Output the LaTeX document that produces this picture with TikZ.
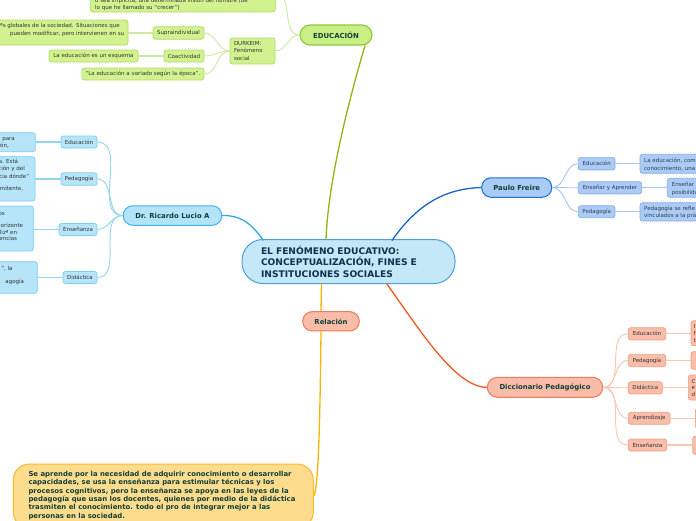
\documentclass[tikz,border=0pt]{standalone}
\usepackage{fontspec}
\setmainfont{DejaVu Sans}
\usetikzlibrary{calc}
\definecolor{colcfill}{HTML}{C4E8F8}
\definecolor{colcbd}{HTML}{4AA0D8}
\definecolor{colctext}{HTML}{12304F}
\definecolor{colttext}{HTML}{123F36}
\definecolor{colltext}{HTML}{333333}
\definecolor{colptext}{HTML}{2B3F5C}
\definecolor{colgfill}{HTML}{C9EF84}
\definecolor{colgbd}{HTML}{8CC63F}
\definecolor{colgcfill}{HTML}{D2F28F}
\definecolor{colgcbd}{HTML}{B0DC68}
\definecolor{colgline}{HTML}{CDE9A3}
\definecolor{colgmline}{HTML}{8DB814}
\definecolor{colrfill}{HTML}{B3E3F8}
\definecolor{colrbd}{HTML}{45B3EA}
\definecolor{colrcfill}{HTML}{B6E5F9}
\definecolor{colrcbd}{HTML}{7ECDF1}
\definecolor{colrline}{HTML}{93D4F3}
\definecolor{colrmline}{HTML}{33A8E6}
\definecolor{colpfill}{HTML}{A8CCF6}
\definecolor{colpbd}{HTML}{1F6ED6}
\definecolor{colpcfill}{HTML}{ABCBF4}
\definecolor{colpcbd}{HTML}{86AFE8}
\definecolor{colpline}{HTML}{A6C5EF}
\definecolor{colpmline}{HTML}{1A63CF}
\definecolor{colsfill}{HTML}{F9BCA8}
\definecolor{colsbd}{HTML}{EE7A58}
\definecolor{colscfill}{HTML}{F9BEA9}
\definecolor{colscbd}{HTML}{F19D80}
\definecolor{colsline}{HTML}{F8C6B3}
\definecolor{colsmline}{HTML}{F05A22}
\definecolor{colyfill}{HTML}{FEDC8E}
\definecolor{colybd}{HTML}{F7BC2A}
\definecolor{colymline}{HTML}{F6B500}
\newcommand\fsm{\fontsize{5.5}{7.2}\selectfont}
\newcommand\fti{\fontsize{6.9}{7.5}\selectfont\bfseries}
\newcommand\fce{\fontsize{9.1}{11.5}\selectfont\bfseries}
\newcommand\fbo{\fontsize{6.9}{8.35}\selectfont\bfseries}
\begin{document}
\begin{tikzpicture}[x=1pt,y=-1pt,
  base/.style={inner sep=0pt, line width=0.7pt, rounded corners=2.5pt, font=\fsm, text=colltext},
  gc/.style={base, draw=colgcbd, fill=colgcfill},
  rc/.style={base, draw=colrcbd, fill=colrcfill},
  pc/.style={base, draw=colpcbd, fill=colpcfill, text=colptext},
  sc/.style={base, draw=colscbd, fill=colscfill},
  title/.style={inner sep=0pt, line width=1pt, font=\fti, text=colttext},
  frag/.style={inner sep=0pt, font=\fsm, text=colltext},
  lk/.style={line width=0.9pt},
  mk/.style={line width=1.3pt}]
\useasboundingbox (0,0) rectangle (696,520);
\fill[white] (0,0) rectangle (696,520);

% ---------- central ----------
\node[draw=colcbd, fill=colcfill, line width=1pt, rounded corners=21pt, inner ysep=0pt,
  minimum width=213, minimum height=44, text width=175, inner xsep=19, align=left,
  font=\fce, text=colctext] (c) at (348.5,261.5)
  {EL FENÓMENO EDUCATIVO:\\CONCEPTUALIZACIÓN, FINES E\\INSTITUCIONES SOCIALES};

% ---------- EDUCACION (green) ----------
\node[title, draw=colgbd, fill=colgfill, rounded corners=10pt, minimum width=72, minimum height=20, line width=1.1pt] (edu) at (336,35) {EDUCACIÓN};
\node[gc, minimum width=45, minimum height=26, text width=37, inner xsep=4, align=left] (dur) at (252.5,51) {DURKEIM:\\Fenómeno\\social};
\node[gc, minimum width=51, minimum height=12.5] (sup) at (178.5,33) {Supraindividual};
\node[gc, minimum width=40, minimum height=12] (coa) at (184,56) {Coactividad};
\node[gc, minimum width=89, minimum height=12] (esq) at (93.5,56) {La educación es un esquema};
\node[gc, minimum width=122, minimum height=12] (var) at (143,74) {“La educación a variado según la época”.};
\node[gc, minimum width=148, minimum height=25] (supt) at (54,32.5) {};
\node[frag, anchor=base west] (supt1) at (0,27.8) {ªs globales de la sociedad. Situaciones que};
\node[frag, anchor=base west] (supt2) at (10,35) {pueden modificar, pero intervienen en su};
\node[gc, minimum width=185, minimum height=32] (top) at (182.8,-4) {};
\node[frag, anchor=base west] (top1) at (95,2.4) {o sea implícita, una determinada visión del hombre (de};
\node[frag, anchor=base west] (top2) at (95,9.2) {lo que he llamado su “crecer”)};
\coordinate (topc) at (275.3,-7);

\draw[lk, colgline] (edu.west) to[out=180,in=0] (topc);
\draw[lk, colgline] (edu.west) to[out=180,in=0] (dur.east);
\draw[lk, colgline] (dur.west) to[out=180,in=0] (sup.east);
\draw[lk, colgline] (dur.west) to[out=180,in=0] (coa.east);
\draw[lk, colgline] (dur.west) to[out=180,in=0] (var.east);
\draw[line width=1.6pt, colgline] (sup.west) -- (sup.west -| supt.east);
\draw[line width=1.6pt, colgline] (coa.west) -- (esq.east);
\draw[mk, colgmline] (edu.-20) .. controls (346,110) and (328,185) .. ($(c.center)+(-22.5,-22)$);

% ---------- Dr. Ricardo Lucio A ----------
\node[title, draw=colrbd, fill=colrfill, rounded corners=9.5pt, minimum width=98.5, minimum height=19.5] (ric) at (172.5,215.5) {Dr. Ricardo Lucio A};
\node[rc, minimum width=36, minimum height=12] (re1) at (79,142) {Educación};
\node[rc, minimum width=36, minimum height=12.5] (re2) at (79,179) {Pedagogía};
\node[rc, minimum width=38, minimum height=12] (re3) at (78,229.5) {Enseñanza};
\node[rc, minimum width=34, minimum height=12] (re4) at (80,277.5) {Didáctica};
\node[rc, minimum width=55.3, minimum height=19] (rb1) at (7.65,142.2) {};
\node[rc, minimum width=55, minimum height=44.3] (rb2) at (7.5,178.85) {};
\node[rc, minimum width=53.3, minimum height=45] (rb3) at (6.65,228.5) {};
\node[rc, minimum width=57.3, minimum height=31.6] (rb4) at (8.65,277.5) {};
\node[frag, anchor=base east] (rb1a) at (15,140) {para};
\node[frag, anchor=base east] (rb1b) at (9,147) {ón,};
\node[frag, anchor=base east] (rb2a) at (18.3,163.5) {s. Está};
\node[frag, anchor=base east] (rb2b) at (25,170.8) {ción y del};
\node[frag, anchor=base east] (rb2c) at (29.3,178) {cia dónde”};
\node[frag, anchor=base east] (rb2d) at (23.3,190.5) {rmitente,};
\node[frag, anchor=base east] (rb3a) at (5,215) {os};
\node[frag, anchor=base east] (rb3b) at (23.3,227.8) {orizonte};
\node[frag, anchor=base east] (rb3c) at (17.3,234.5) {lizª en};
\node[frag, anchor=base east] (rb3d) at (17.3,240.2) {encias};
\node[frag, anchor=base east] (rb4a) at (12.7,270) {”, la};
\node[frag, anchor=base east] (rb4b) at (24.3,283) {agogía};

\draw[mk, colrmline] (ric.east) .. controls (245,215) and (255,229) .. ($(c.center)+(-85,-21)$);
\foreach \k in {re1,re2,re3,re4}{\draw[lk, colrline] (ric.west) to[out=180,in=0] (\k.east);}
\draw[line width=1.2pt, colrline] (re1.west) -- (re1.west -| rb1.east);
\draw[line width=1.2pt, colrline] (re2.west) -- (re2.west -| rb2.east);
\draw[line width=1.2pt, colrline] (re3.west) -- (re3.west -| rb3.east);
\draw[line width=1.2pt, colrline] (re4.west) -- (re4.west -| rb4.east);

% ---------- Paulo Freire ----------
\node[title, draw=colpbd, fill=colpfill, rounded corners=9.5pt, minimum width=70, minimum height=19.5] (pau) at (516.7,187.5) {Paulo Freire};
\node[pc, minimum width=36.7, minimum height=12.7] (pe1) at (596.7,163.7) {Educación};
\node[pc, minimum width=63.4, minimum height=12.3] (pe2) at (610,187.8) {Enseñar y Aprender};
\node[pc, minimum width=36.7, minimum height=12] (pe3) at (596.7,211.7) {Pedagogía};
\node[pc, minimum width=80, minimum height=19] (pb1) at (680,163.8) {};
\node[pc, minimum width=52.7, minimum height=19] (pb2) at (693.65,187.8) {};
\node[pc, minimum width=80, minimum height=18.3] (pb3) at (680,211.85) {};
\node[frag, text=colptext, anchor=base west] (pb1a) at (644,162.5) {La educación, com};
\node[frag, text=colptext, anchor=base west] (pb1b) at (644,170) {conocimiento, una};
\node[frag, text=colptext, anchor=base west] (pb2a) at (671.7,186.7) {Enseñar};
\node[frag, text=colptext, anchor=base west] (pb2b) at (671.7,194) {posibilida};
\node[frag, text=colptext, anchor=base west] (pb3a) at (644,210.7) {Pedagogía se refle};
\node[frag, text=colptext, anchor=base west] (pb3b) at (644,217.8) {vinculados a la prá};

\draw[mk, colpmline] ($(c.center)+(43.5,-21)$) .. controls (420,200) and (450,188.5) .. (pau.west);
\foreach \k in {pe1,pe2,pe3}{\draw[lk, colpline] (pau.east) to[out=0,in=180] (\k.west);}
\draw[line width=1.2pt, colpline] (pe1.east) -- (pe1.east -| pb1.west);
\draw[line width=1.2pt, colpline] (pe2.east) -- (pe2.east -| pb2.west);
\draw[line width=1.2pt, colpline] (pe3.east) -- (pe3.east -| pb3.west);

% ---------- Relacion ----------
\node[title, draw=colsbd, fill=colsfill, rounded corners=9.5pt, minimum width=56.6, minimum height=19.3] (rel) at (331,321.3) {Relación};
\node[draw=colybd, fill=colyfill, line width=1pt, rounded corners=16pt, minimum width=300, minimum height=64, inner sep=0pt] (bot) at (163.3,496) {};
\node[inner sep=0pt, anchor=north west, align=left, font=\fbo, text=colttext] (bottxt) at (28.3,471)
  {Se aprende por la necesidad de adquirir conocimiento o desarrollar\\
   capacidades, se usa la enseñanza para estimular técnicas y los\\
   procesos cognitivos, pero la enseñanza se apoya en las leyes de la\\
   pedagogía que usan los docentes, quienes por medio de la didáctica\\
   trasmiten el conocimiento. todo el pro de integrar mejor a las\\
   personas en la sociedad.};
\draw[mk, colymline] ($(c.center)+(-27,22)$) -- ($(rel.north)+(-10,0)$);
\draw[mk, colymline] ($(rel.south)+(-10,0)$) .. controls (320,430) and (318,490) .. (bot.east);

% ---------- Diccionario Pedagogico ----------
\node[title, draw=colsbd, fill=colsfill, rounded corners=10pt, minimum width=115.4, minimum height=20] (dic) at (545,387.3) {Diccionario Pedagógico};
\node[sc, minimum width=37.4, minimum height=12.3] (de1) at (647,333.8) {Educación};
\node[sc, minimum width=37.4, minimum height=12.3] (de2) at (647,360.5) {Pedagogía};
\node[sc, minimum width=34, minimum height=12.3] (de3) at (645.3,387.8) {Didáctica};
\node[sc, minimum width=41.7, minimum height=12] (de4) at (649.2,418.3) {Aprendizaje};
\node[sc, minimum width=38.4, minimum height=12] (de5) at (647.5,445) {Enseñanza};
\node[sc, minimum width=29, minimum height=25] (db1) at (705.5,333.2) {};
\node[sc, minimum width=29, minimum height=17.6] (db2) at (705.5,360.5) {};
\node[sc, minimum width=31.7, minimum height=25] (db3) at (704.2,387.5) {};
\node[sc, minimum width=24.7, minimum height=20] (db4) at (707.7,418.3) {};
\node[sc, minimum width=27.3, minimum height=18.3] (db5) at (706.4,445.2) {};
\node[frag, anchor=base west] (db1a) at (693.5,328.5) {I};
\node[frag, anchor=base west] (db1b) at (693.5,335.5) {f};
\node[frag, anchor=base west] (db1c) at (693.5,342.5) {t};
\node[frag, anchor=base west] (db3a) at (691.5,383.5) {C};
\node[frag, anchor=base west] (db3b) at (691.5,389.5) {e};
\node[frag, anchor=base west] (db3c) at (691.5,396) {d};

\draw[mk, colsmline] ($(c.center)+(38,22)$) .. controls (420,330) and (455,387) .. (dic.west);
\foreach \k in {de1,de2,de3,de4,de5}{\draw[lk, colsline] (dic.east) to[out=0,in=180] (\k.west);}
\draw[line width=1.2pt, colsline] (de1.east) -- (de1.east -| db1.west);
\draw[line width=1.2pt, colsline] (de2.east) -- (de2.east -| db2.west);
\draw[line width=1.2pt, colsline] (de3.east) -- (de3.east -| db3.west);
\draw[line width=1.2pt, colsline] (de4.east) -- (de4.east -| db4.west);
\draw[line width=1.2pt, colsline] (de5.east) -- (de5.east -| db5.west);
\end{tikzpicture}
\end{document}
